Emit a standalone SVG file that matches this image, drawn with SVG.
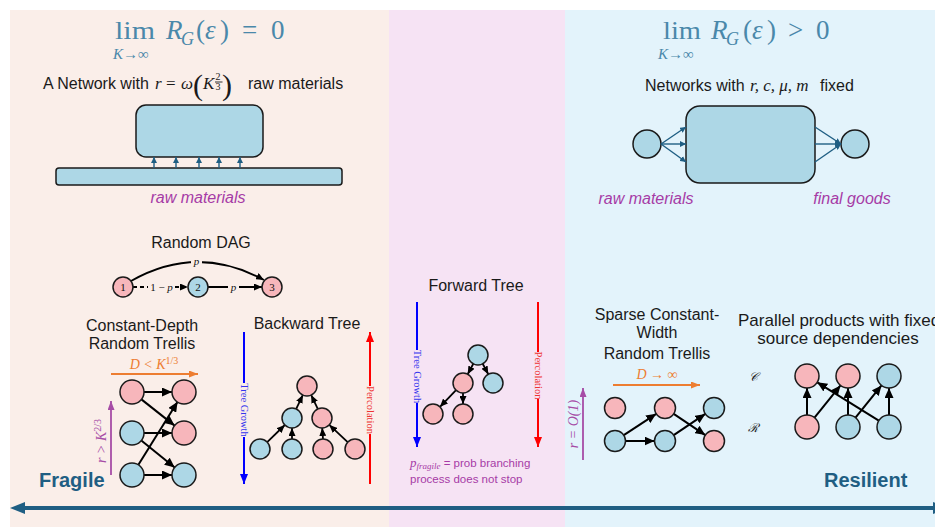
<svg xmlns="http://www.w3.org/2000/svg" width="935" height="527" viewBox="0 0 935 527">
<defs>
<style>
.sans{font-family:"Liberation Sans",Arial,sans-serif}
.serif{font-family:"Liberation Serif","Times New Roman",serif}
.it{font-style:italic}
.title{font-family:"Liberation Sans",Arial,sans-serif;font-size:16px;fill:#1a1a1a;text-anchor:middle}
.math{font-family:"Liberation Serif","Times New Roman",serif;fill:#4A88AA}
.pk{fill:#F7B6BB;stroke:#1a1a1a;stroke-width:1.5}
.bl{fill:#ADD7E6;stroke:#1a1a1a;stroke-width:1.5}
.edge{stroke:#000;stroke-width:2;fill:none;marker-end:url(#ah)}
.edges{stroke:#000;stroke-width:1.8;fill:none;marker-end:url(#ahs)}
.teal{stroke:#1F5E83;stroke-width:1.4;fill:none;marker-end:url(#aht)}
.pl{fill:#A63BA6}
.lbl{font-family:"Liberation Serif","Times New Roman",serif;font-size:11px;fill:#111}
.bold{font-family:"Liberation Sans",Arial,sans-serif;font-weight:bold;font-size:20px;fill:#1F5E83}
</style>
<marker id="ah" markerUnits="userSpaceOnUse" markerWidth="10" markerHeight="9" viewBox="0 0 10 9" refX="10" refY="4.5" orient="auto"><path d="M0,0 L10,4.5 L0,9 z" fill="#000"/></marker>
<marker id="ahs" markerUnits="userSpaceOnUse" markerWidth="8" markerHeight="7" viewBox="0 0 8 7" refX="8" refY="3.5" orient="auto"><path d="M0,0 L8,3.5 L0,7 z" fill="#000"/></marker>
<marker id="aht" markerUnits="userSpaceOnUse" markerWidth="6" markerHeight="6" viewBox="0 0 6 6" refX="6" refY="3" orient="auto"><path d="M0,0 L6,3 L0,6 z" fill="#1F5E83"/></marker>
<marker id="ahb" markerUnits="userSpaceOnUse" markerWidth="10" markerHeight="8" viewBox="0 0 10 8" refX="10" refY="4" orient="auto"><path d="M0,0 L10,4 L0,8 z" fill="#0000FF"/></marker>
<marker id="ahr" markerUnits="userSpaceOnUse" markerWidth="10" markerHeight="8" viewBox="0 0 10 8" refX="10" refY="4" orient="auto"><path d="M0,0 L10,4 L0,8 z" fill="#FF0000"/></marker>
<marker id="aho" markerUnits="userSpaceOnUse" markerWidth="9" markerHeight="7" viewBox="0 0 9 7" refX="9" refY="3.5" orient="auto"><path d="M0,0 L9,3.5 L0,7 z" fill="#ED7D31"/></marker>
<marker id="ahp" markerUnits="userSpaceOnUse" markerWidth="9" markerHeight="7" viewBox="0 0 9 7" refX="9" refY="3.5" orient="auto"><path d="M0,0 L9,3.5 L0,7 z" fill="#A64CA6"/></marker>
</defs>

<!-- panels -->
<rect x="10" y="10" width="379" height="517" fill="#FAEEE9"/>
<rect x="389" y="10" width="176" height="517" fill="#F6E3F4"/>
<rect x="565" y="10" width="370" height="517" fill="#E3F3FB"/>

<!-- left title -->
<g id="title-left">
<text class="math" x="115" y="39" font-size="25" textLength="40" lengthAdjust="spacingAndGlyphs">lim</text>
<text class="math" x="113" y="59" font-size="15"><tspan font-style="italic">K</tspan>→∞</text>
<text class="math it" x="166" y="39" font-size="27">R</text>
<text class="math it" x="181" y="45" font-size="18">G</text>
<text class="math" x="196" y="39" font-size="27">(</text>
<text class="math it" x="205" y="39" font-size="27">ε</text>
<text class="math" x="220" y="39" font-size="27">)</text>
<text class="math" x="242" y="39" font-size="27">=</text>
<text class="math" x="271" y="39" font-size="27">0</text>
</g>
<!-- right title -->
<g id="title-right">
<text class="math" x="663" y="39" font-size="25" textLength="38" lengthAdjust="spacingAndGlyphs">lim</text>
<text class="math" x="658" y="59" font-size="15"><tspan font-style="italic">K</tspan>→∞</text>
<text class="math it" x="711" y="39" font-size="27">R</text>
<text class="math it" x="726" y="45" font-size="18">G</text>
<text class="math" x="743" y="39" font-size="27">(</text>
<text class="math it" x="752" y="39" font-size="27">ε</text>
<text class="math" x="767" y="39" font-size="27">)</text>
<text class="math" x="788" y="39" font-size="27">&gt;</text>
<text class="math" x="816" y="39" font-size="27">0</text>
</g>

<!-- left subtitle -->
<g id="subtitle-left" fill="#1a1a1a">
<text class="sans" x="43" y="89" font-size="16">A Network with</text>
<text class="serif it" x="155" y="89" font-size="17">r</text>
<text class="serif" x="166" y="89" font-size="17">=</text>
<text class="serif it" x="181" y="89" font-size="17">ω</text>
<text class="serif" x="193" y="95" font-size="30">(</text>
<text class="serif it" x="203" y="89" font-size="17">K</text>
<text class="serif" x="215.5" y="80" font-size="10">2</text>
<line x1="215" y1="82" x2="222.5" y2="82" stroke="#1a1a1a" stroke-width="0.9"/>
<text class="serif" x="215.5" y="90" font-size="10">3</text>
<text class="serif" x="222" y="95" font-size="30">)</text>
<text class="sans" x="248" y="89" font-size="16">raw materials</text>
</g>
<g id="subtitle-right" fill="#1a1a1a">
<text class="sans" x="645" y="91" font-size="16">Networks with</text>
<text class="serif it" x="750" y="91" font-size="17">r, c, μ, m</text>
<text class="sans" x="820" y="91" font-size="16">fixed</text>
</g>

<!-- top-left network -->
<g id="network-box-left"><rect x="136" y="105" width="127" height="52" rx="10" class="bl"/></g>
<g id="raw-bar"><rect x="56" y="168" width="286" height="17" rx="3" class="bl"/></g>
<text class="sans it pl" x="198" y="203" font-size="16" text-anchor="middle">raw materials</text>

<!-- top-right network -->
<g id="raw-node"><circle cx="647" cy="144" r="14" class="bl"/></g>
<g id="network-box-right"><rect x="686" y="106" width="129" height="77" rx="14" class="bl"/></g>
<g id="final-node"><circle cx="855" cy="144" r="14" class="bl"/></g>
<text class="sans it pl" x="646" y="204" font-size="16" text-anchor="middle">raw materials</text>
<text class="sans it pl" x="852" y="204" font-size="16" text-anchor="middle">final goods</text>

<!-- section titles -->
<text class="title" x="201" y="248">Random DAG</text>
<text class="title" x="142" y="331">Constant-Depth</text>
<text class="title" x="142" y="349">Random Trellis</text>
<text class="title" x="307" y="329">Backward Tree</text>
<text class="title" x="476" y="291">Forward Tree</text>
<text class="title" x="657" y="320">Sparse Constant-</text>
<text class="title" x="657" y="338">Width</text>
<text class="title" x="657" y="359">Random Trellis</text>
<text class="title" x="738" y="326" style="text-anchor:start;font-size:17px">Parallel products with fixed</text>
<text class="title" x="838" y="344" style="font-size:17px">source dependencies</text>

<!-- connectors -->
<g id="connectors">
<line class="teal" x1="154" y1="168" x2="154" y2="157"/>
<line class="teal" x1="176" y1="168" x2="176" y2="157"/>
<line class="teal" x1="199" y1="168" x2="199" y2="157"/>
<line class="teal" x1="219" y1="168" x2="219" y2="157"/>
<line class="teal" x1="240" y1="168" x2="240" y2="157"/>
<line class="teal" x1="661" y1="144" x2="686" y2="127"/>
<line class="teal" x1="661" y1="144" x2="686" y2="144"/>
<line class="teal" x1="661" y1="144" x2="686" y2="162"/>
<line class="teal" x1="815" y1="127" x2="841" y2="144"/>
<line class="teal" x1="815" y1="144" x2="841" y2="144"/>
<line class="teal" x1="815" y1="162" x2="841" y2="144"/>

<path class="edges" d="M131,281 Q197,243.5 264,280"/>
<line class="edges" x1="133" y1="287" x2="188" y2="287" stroke-dasharray="4 3"/>
<line class="edges" x1="208" y1="287" x2="262" y2="287"/>

<line class="edge" x1="144" y1="392" x2="172" y2="392"/>
<line class="edge" x1="141.4" y1="399.4" x2="174.6" y2="425.6"/>
<line class="edge" x1="144" y1="433" x2="172" y2="433"/>
<line class="edge" x1="141.3" y1="440.5" x2="174.7" y2="467.5"/>
<line class="edge" x1="144" y1="475" x2="172" y2="475"/>
<line class="edge" x1="138.4" y1="464.8" x2="177.6" y2="401.8"/>

<line class="edges" x1="267.2" y1="442.1" x2="284.8" y2="425"/>
<line class="edges" x1="292" y1="439" x2="292" y2="428"/>
<line class="edges" x1="323" y1="439" x2="322.2" y2="428"/>
<line class="edges" x1="347.7" y1="442.2" x2="329.3" y2="424.9"/>
<line class="edges" x1="296.2" y1="408.9" x2="302.8" y2="395.1"/>
<line class="edges" x1="317.8" y1="408.9" x2="311.2" y2="395.1"/>

<line class="edges" x1="473.3" y1="363.8" x2="467.7" y2="374.2"/>
<line class="edges" x1="482.7" y1="363.8" x2="488.3" y2="374.2"/>
<line class="edges" x1="456" y1="390.2" x2="440" y2="406.8"/>
<line class="edges" x1="463" y1="393" x2="463" y2="404"/>

<line class="edge" x1="623.8" y1="435.2" x2="656.2" y2="413.8"/>
<line class="edge" x1="625.5" y1="441" x2="654.5" y2="441"/>
<line class="edge" x1="673.7" y1="413.9" x2="705.3" y2="435.1"/>
<line class="edge" x1="673.7" y1="435.1" x2="705.3" y2="413.9"/>

<line class="edge" x1="807" y1="415" x2="807" y2="388"/>
<line class="edge" x1="814.5" y1="417.6" x2="840.5" y2="385.4"/>
<line class="edge" x1="848" y1="415" x2="848" y2="388"/>
<line class="edge" x1="855.5" y1="417.6" x2="881.5" y2="385.4"/>
<line class="edge" x1="889" y1="415" x2="889" y2="388"/>
<line class="edge" x1="878.8" y1="420.7" x2="817.2" y2="382.3"/>

<line x1="111" y1="374" x2="198" y2="374" stroke="#ED7D31" stroke-width="1.8" marker-end="url(#aho)"/>
<line x1="111" y1="475" x2="111" y2="401" stroke="#A64CA6" stroke-width="1.8" marker-end="url(#ahp)"/>
<line x1="613" y1="385" x2="700" y2="385" stroke="#ED7D31" stroke-width="1.8" marker-end="url(#aho)"/>
<line x1="583" y1="460" x2="583" y2="388" stroke="#A64CA6" stroke-width="1.8" marker-end="url(#ahp)"/>

<line x1="244" y1="332" x2="244" y2="383" stroke="#0000FF" stroke-width="2"/>
<line x1="244" y1="437" x2="244" y2="484" stroke="#0000FF" stroke-width="2" marker-end="url(#ahb)"/>
<line x1="370" y1="484" x2="370" y2="434" stroke="#FF0000" stroke-width="2"/>
<line x1="370" y1="386" x2="370" y2="332" stroke="#FF0000" stroke-width="2" marker-end="url(#ahr)"/>
<line x1="417" y1="302" x2="417" y2="350" stroke="#0000FF" stroke-width="2"/>
<line x1="417" y1="403" x2="417" y2="447" stroke="#0000FF" stroke-width="2" marker-end="url(#ahb)"/>
<line x1="538" y1="302" x2="538" y2="352" stroke="#FF0000" stroke-width="2"/>
<line x1="538" y1="399" x2="538" y2="447" stroke="#FF0000" stroke-width="2" marker-end="url(#ahr)"/>

<line x1="22" y1="508" x2="935" y2="508" stroke="#1F5E83" stroke-width="4"/>
<polygon points="10,508 25,502 25,514" fill="#1F5E83"/>
<polygon points="947,508 933,502 933,514" fill="#1F5E83"/>
</g>

<!-- DAG labels -->
<rect x="191" y="256" width="11" height="10" fill="#FAEEE9"/>
<text class="lbl it" x="196.5" y="265" text-anchor="middle">p</text>
<rect x="148" y="281" width="27" height="11" fill="#FAEEE9"/>
<text class="lbl" x="161.5" y="290.5" text-anchor="middle">1 − <tspan font-style="italic">p</tspan></text>
<rect x="228" y="282" width="11" height="10" fill="#FAEEE9"/>
<text class="lbl it" x="233.5" y="290.5" text-anchor="middle">p</text>

<g id="dag-1"><circle cx="123" cy="287" r="10" class="pk"/><text class="lbl" x="123" y="291" text-anchor="middle" font-size="10">1</text></g>
<g id="dag-2"><circle cx="198" cy="287" r="10" class="bl"/><text class="lbl" x="198" y="291" text-anchor="middle" font-size="10">2</text></g>
<g id="dag-3"><circle cx="272" cy="287" r="10" class="pk"/><text class="lbl" x="272" y="291" text-anchor="middle" font-size="10">3</text></g>

<g id="cd-l1"><circle cx="132" cy="392" r="12" class="pk"/></g>
<g id="cd-l2"><circle cx="132" cy="433" r="12" class="bl"/></g>
<g id="cd-l3"><circle cx="132" cy="475" r="12" class="bl"/></g>
<g id="cd-r1"><circle cx="184" cy="392" r="12" class="pk"/></g>
<g id="cd-r2"><circle cx="184" cy="433" r="12" class="pk"/></g>
<g id="cd-r3"><circle cx="184" cy="475" r="12" class="bl"/></g>
<text class="serif it" x="154" y="369" font-size="14" fill="#ED7D31" text-anchor="middle">D &lt; K<tspan dy="-5" font-size="10" font-style="normal">1/3</tspan></text>
<text class="serif it" transform="translate(106,441) rotate(-90)" font-size="14" fill="#A64CA6" text-anchor="middle">r &gt; K<tspan dy="-5" font-size="10" font-style="normal">2/3</tspan></text>

<g id="bt-root"><circle cx="307" cy="386" r="10" class="pk"/></g>
<g id="bt-a"><circle cx="292" cy="418" r="10" class="bl"/></g>
<g id="bt-b"><circle cx="322" cy="418" r="10" class="pk"/></g>
<g id="bt-c"><circle cx="260" cy="449" r="10" class="bl"/></g>
<g id="bt-d"><circle cx="292" cy="449" r="10" class="bl"/></g>
<g id="bt-e"><circle cx="323" cy="449" r="10" class="pk"/></g>
<g id="bt-f"><circle cx="355" cy="449" r="10" class="pk"/></g>
<text class="serif" transform="translate(240.5,410) rotate(90)" font-size="10.5" fill="#3333EE" text-anchor="middle">Tree Growth</text>
<text class="serif" transform="translate(366.5,410) rotate(90)" font-size="10.5" fill="#EE3333" text-anchor="middle">Percolation</text>

<g id="ft-root"><circle cx="478" cy="355" r="10" class="bl"/></g>
<g id="ft-a"><circle cx="463" cy="383" r="10" class="pk"/></g>
<g id="ft-b"><circle cx="493" cy="383" r="10" class="bl"/></g>
<g id="ft-c"><circle cx="433" cy="414" r="10" class="pk"/></g>
<g id="ft-d"><circle cx="463" cy="414" r="10" class="pk"/></g>
<text class="serif" transform="translate(413.5,376.5) rotate(90)" font-size="10.5" fill="#3333EE" text-anchor="middle">Tree Growth</text>
<text class="serif" transform="translate(534.5,375.5) rotate(90)" font-size="10.5" fill="#EE3333" text-anchor="middle">Percolation</text>
<text x="410" y="467" class="pl"><tspan class="serif it" font-size="13">p</tspan><tspan class="serif it" font-size="9" dy="2">fragile</tspan><tspan class="sans" font-size="11.5" dy="-2"> = prob branching</tspan></text>
<text x="410" y="483" class="sans pl" font-size="11.5">process does not stop</text>

<g id="sp-1t"><circle cx="615" cy="408" r="10.5" class="pk"/></g>
<g id="sp-1b"><circle cx="615" cy="441" r="10.5" class="bl"/></g>
<g id="sp-2t"><circle cx="665" cy="408" r="10.5" class="pk"/></g>
<g id="sp-2b"><circle cx="665" cy="441" r="10.5" class="bl"/></g>
<g id="sp-3t"><circle cx="714" cy="408" r="10.5" class="bl"/></g>
<g id="sp-3b"><circle cx="714" cy="441" r="10.5" class="pk"/></g>
<text class="serif it" x="657" y="379" font-size="14" fill="#ED7D31" text-anchor="middle">D → ∞</text>
<text class="serif it" transform="translate(578,424) rotate(-90)" font-size="14" fill="#A64CA6" text-anchor="middle">r = O(1)</text>

<text class="serif it" x="753" y="381" font-size="12" fill="#222" text-anchor="middle">𝒞</text>
<text class="serif it" x="753" y="432" font-size="12" fill="#222" text-anchor="middle">ℛ</text>
<g id="pp-t1"><circle cx="807" cy="376" r="12" class="pk"/></g>
<g id="pp-t2"><circle cx="848" cy="376" r="12" class="pk"/></g>
<g id="pp-t3"><circle cx="889" cy="376" r="12" class="bl"/></g>
<g id="pp-b1"><circle cx="807" cy="427" r="12" class="pk"/></g>
<g id="pp-b2"><circle cx="848" cy="427" r="12" class="bl"/></g>
<g id="pp-b3"><circle cx="889" cy="427" r="12" class="bl"/></g>

<text class="bold" x="39" y="487">Fragile</text>
<text class="bold" x="824" y="487">Resilient</text>
</svg>
